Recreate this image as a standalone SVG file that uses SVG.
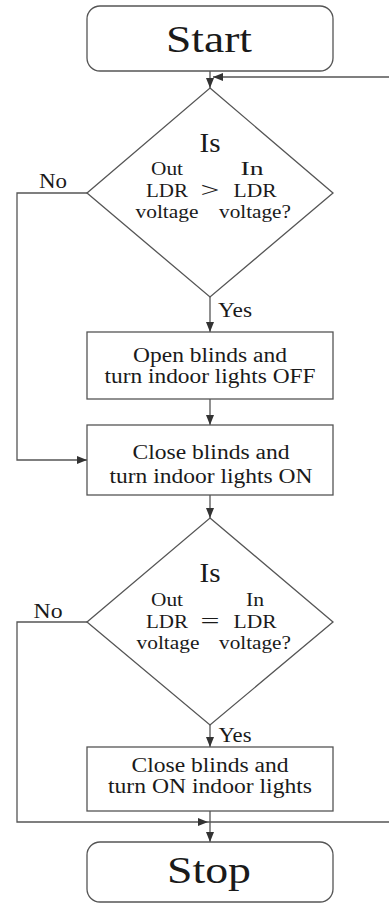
<svg xmlns="http://www.w3.org/2000/svg" width="389" height="903" viewBox="0 0 389 903">
<style>
.shape{fill:#fff;stroke:#555;stroke-width:1.3}
.conn{fill:none;stroke:#555;stroke-width:1.3}
text{font-family:"Liberation Serif","Times New Roman",serif;fill:#1a1a1a;text-anchor:middle}
.big{font-size:37px}
.is{font-size:27px}
.t{font-size:21px}
.d{font-size:18.5px}
.b{font-size:20px}
</style>
<defs>
<marker id="arr" markerUnits="userSpaceOnUse" markerWidth="10" markerHeight="8" refX="10" refY="4" orient="auto">
<path d="M0,0 L10,4 L0,8 z" fill="#333"/>
</marker>
</defs>
<rect width="389" height="903" fill="#fff"/>
<g id="connectors">
<line class="conn" x1="210" y1="71" x2="210" y2="88" marker-end="url(#arr)"/>
<line class="conn" x1="389" y1="77" x2="213" y2="77" marker-end="url(#arr)"/>
<polyline class="conn" points="87,193 17,193 17,460 87,460" marker-end="url(#arr)"/>
<line class="conn" x1="210" y1="297" x2="210" y2="332" marker-end="url(#arr)"/>
<line class="conn" x1="210" y1="399" x2="210" y2="425" marker-end="url(#arr)"/>
<line class="conn" x1="210" y1="495" x2="210" y2="518" marker-end="url(#arr)"/>
<polyline class="conn" points="87,622 17,622 17,822 208,822" marker-end="url(#arr)"/>
<line class="conn" x1="208" y1="822" x2="389" y2="822"/>
<line class="conn" x1="210" y1="725" x2="210" y2="747" marker-end="url(#arr)"/>
<line class="conn" x1="210" y1="811" x2="210" y2="842" marker-end="url(#arr)"/>
<text class="t" x="53" y="188" textLength="28" lengthAdjust="spacingAndGlyphs">No</text>
<text class="t" x="235" y="317" textLength="34" lengthAdjust="spacingAndGlyphs">Yes</text>
<text class="t" x="48" y="618" textLength="29" lengthAdjust="spacingAndGlyphs">No</text>
<text class="t" x="235" y="742" textLength="33" lengthAdjust="spacingAndGlyphs">Yes</text>
</g>
<g id="start">
<rect class="shape" x="87" y="6" width="246" height="65" rx="13"/>
<text class="big" x="209" y="52" textLength="86" lengthAdjust="spacingAndGlyphs">Start</text>
</g>
<g id="decision1">
<polygon class="shape" points="210,88 333,193 210,297 87,193"/>
<text class="is" x="210" y="152" textLength="21" lengthAdjust="spacingAndGlyphs">Is</text>
<text class="d" x="167" y="175" textLength="32" lengthAdjust="spacingAndGlyphs">Out</text>
<text class="d" x="252" y="175" textLength="23" lengthAdjust="spacingAndGlyphs">In</text>
<text class="d" x="167" y="197" textLength="42" lengthAdjust="spacingAndGlyphs">LDR</text>
<text class="t" x="210" y="197" textLength="19" lengthAdjust="spacingAndGlyphs">&gt;</text>
<text class="d" x="255" y="197" textLength="43" lengthAdjust="spacingAndGlyphs">LDR</text>
<text class="d" x="167" y="218" textLength="63" lengthAdjust="spacingAndGlyphs">voltage</text>
<text class="d" x="255" y="218" textLength="72" lengthAdjust="spacingAndGlyphs">voltage?</text>
</g>
<g id="open-blinds">
<rect class="shape" x="87" y="332" width="246" height="67"/>
<text class="b" x="210" y="362" textLength="154" lengthAdjust="spacingAndGlyphs">Open blinds and</text>
<text class="b" x="210" y="383" textLength="211" lengthAdjust="spacingAndGlyphs">turn indoor lights OFF</text>
</g>
<g id="close-blinds-on">
<rect class="shape" x="87" y="425" width="246" height="70"/>
<text class="b" x="211" y="459" textLength="157" lengthAdjust="spacingAndGlyphs">Close blinds and</text>
<text class="b" x="211" y="483" textLength="203" lengthAdjust="spacingAndGlyphs">turn indoor lights ON</text>
</g>
<g id="decision2">
<polygon class="shape" points="210,518 333,622 210,725 87,622"/>
<text class="is" x="210" y="582" textLength="21" lengthAdjust="spacingAndGlyphs">Is</text>
<text class="d" x="167" y="606" textLength="32" lengthAdjust="spacingAndGlyphs">Out</text>
<text class="d" x="255" y="606" textLength="18" lengthAdjust="spacingAndGlyphs">In</text>
<text class="d" x="167" y="628" textLength="42" lengthAdjust="spacingAndGlyphs">LDR</text>
<text class="t" x="210" y="628" textLength="19" lengthAdjust="spacingAndGlyphs">=</text>
<text class="d" x="255" y="628" textLength="43" lengthAdjust="spacingAndGlyphs">LDR</text>
<text class="d" x="168" y="649" textLength="63" lengthAdjust="spacingAndGlyphs">voltage</text>
<text class="d" x="255" y="649" textLength="72" lengthAdjust="spacingAndGlyphs">voltage?</text>
</g>
<g id="close-blinds-on-2">
<rect class="shape" x="87" y="747" width="246" height="64"/>
<text class="b" x="210" y="772" textLength="157" lengthAdjust="spacingAndGlyphs">Close blinds and</text>
<text class="b" x="210" y="793" textLength="204" lengthAdjust="spacingAndGlyphs">turn ON indoor lights</text>
</g>
<g id="stop">
<rect class="shape" x="87" y="842" width="246" height="60" rx="13"/>
<text class="big" x="209" y="883" textLength="84" lengthAdjust="spacingAndGlyphs">Stop</text>
</g>
</svg>
